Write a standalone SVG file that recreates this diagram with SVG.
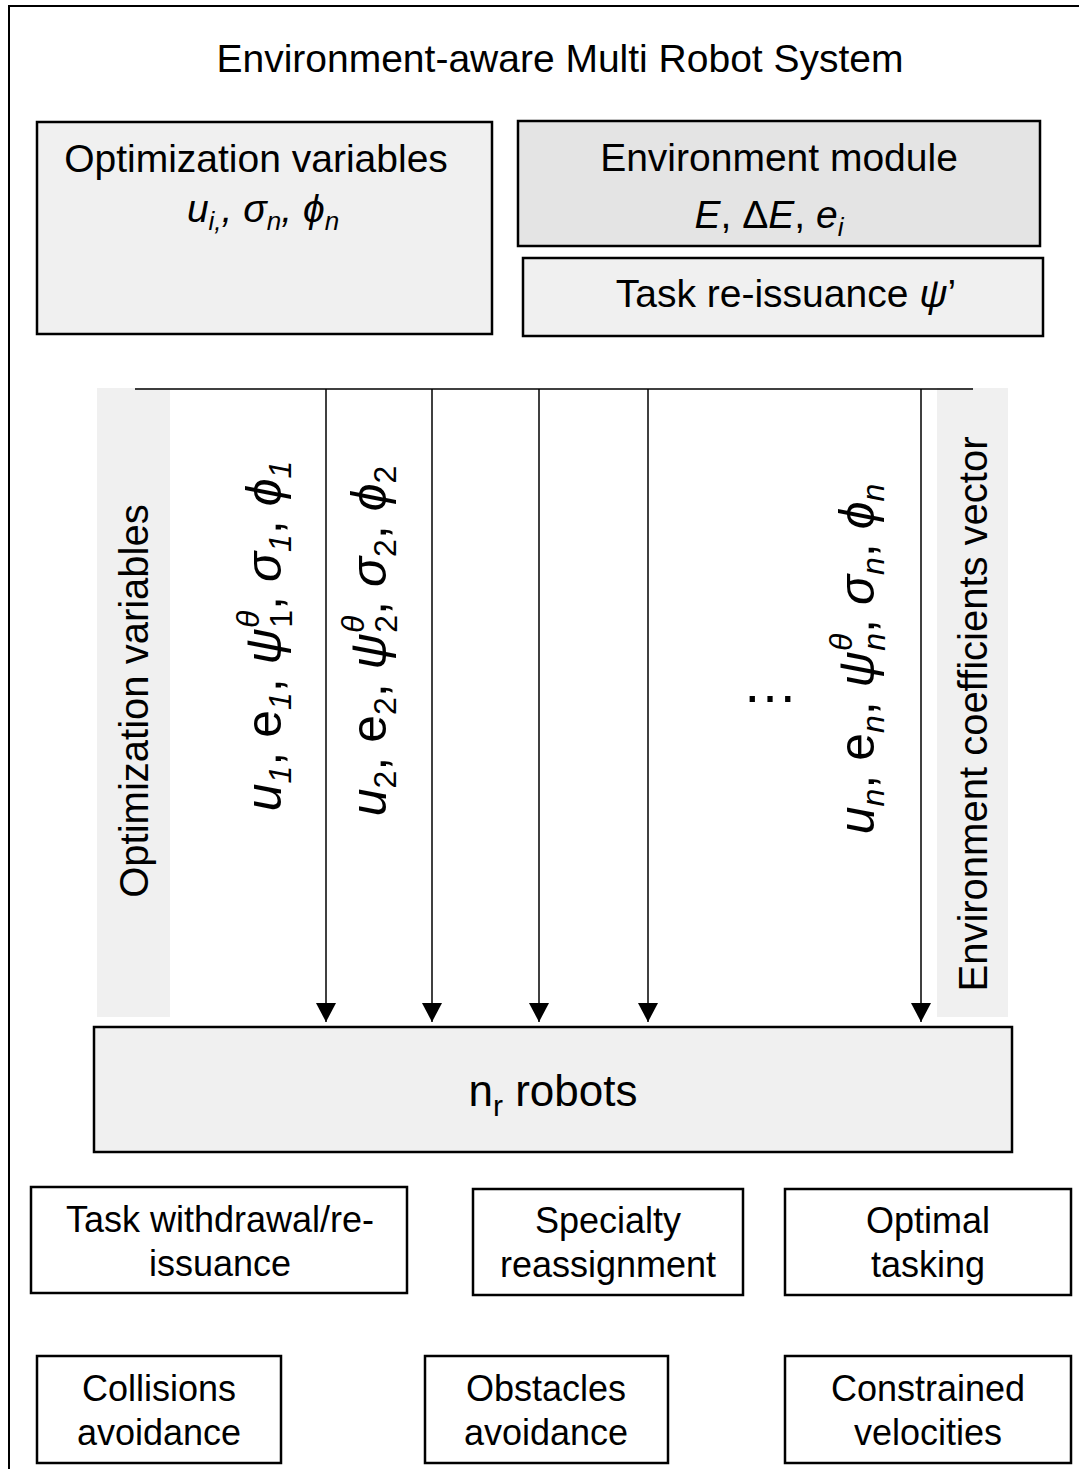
<svg xmlns="http://www.w3.org/2000/svg" width="1079" height="1469" viewBox="0 0 1079 1469">
<defs>
<style>
text{font-family:"Liberation Sans","DejaVu Sans",Arial,sans-serif;fill:#000}
.box{stroke:#000;stroke-width:2.5}
.light{fill:#f0f0f0}
.mid{fill:#e4e4e4}
.white{fill:#fff}
.band{fill:#f0f0f0;stroke:none}
.t39{font-size:39px}
.t36{font-size:36px}
.it{font-style:italic}
.conn{stroke:#000;stroke-width:1.5;fill:none}
.f{font-size:50px}
.s{font-size:32px}
</style>
<marker id="ah" markerWidth="19" markerHeight="20" refX="19" refY="10" orient="auto" markerUnits="userSpaceOnUse">
<path d="M0,0 L19,10 L0,20 Z" fill="#000"/>
</marker>
</defs>
<rect x="0" y="0" width="1079" height="1469" fill="#fff"/>
<rect x="9" y="6" width="1200" height="1600" fill="none" stroke="#000" stroke-width="2"/>

<g id="title">
<text class="t39" x="560" y="72" text-anchor="middle">Environment-aware Multi Robot System</text>
</g>

<g id="opt-vars">
<rect class="box light" x="37" y="122" width="455" height="212"/>
<text class="t39" x="256" y="172" text-anchor="middle">Optimization variables</text>
<text class="t39 it" x="263" y="222" text-anchor="middle">u<tspan font-size="26" dy="8">i,</tspan><tspan dy="-8">, σ</tspan><tspan font-size="26" dy="8">n</tspan><tspan dy="-8">, ϕ</tspan><tspan font-size="26" dy="8">n</tspan></text>
</g>

<g id="env-module">
<rect class="box mid" x="518" y="121" width="522" height="125"/>
<text class="t39" x="779" y="171" text-anchor="middle">Environment module</text>
<text class="t39" x="769" y="228" text-anchor="middle"><tspan class="it">E</tspan>, Δ<tspan class="it">E</tspan>, <tspan class="it">e</tspan><tspan class="it" font-size="26" dy="8">i</tspan></text>
</g>

<g id="task-reissuance">
<rect class="box light" x="523" y="258" width="520" height="78"/>
<text class="t39" x="786" y="307" text-anchor="middle">Task re-issuance <tspan class="it">ψ</tspan>’</text>
</g>

<g id="opt-band">
<rect class="band" x="97" y="388" width="73" height="629"/>
<text font-size="40" transform="translate(148,701) rotate(-90)" text-anchor="middle">Optimization variables</text>
</g>

<g id="env-band">
<rect class="band" x="937" y="388" width="71" height="629"/>
<text font-size="40" transform="translate(987,714) rotate(-90)" text-anchor="middle">Environment coefficients vector</text>
</g>

<g id="label-1">
<text class="f" transform="translate(281,636) rotate(-90)" text-anchor="middle"><tspan class="it">u</tspan><tspan class="s it" dy="10">1</tspan><tspan dy="-10">, e</tspan><tspan class="s it" dy="10">1</tspan><tspan dy="-10">, </tspan><tspan class="it">ψ</tspan><tspan class="s it" dy="-22">θ</tspan><tspan class="s" dx="-17" dy="33">1</tspan><tspan dy="-11">, </tspan><tspan class="it">σ</tspan><tspan class="s it" dy="10">1</tspan><tspan dy="-10">, </tspan><tspan class="it">ϕ</tspan><tspan class="s it" dy="10">1</tspan></text>
</g>

<g id="label-2">
<text class="f" transform="translate(386,641) rotate(-90)" text-anchor="middle"><tspan class="it">u</tspan><tspan class="s" dy="10">2</tspan><tspan dy="-10">, e</tspan><tspan class="s" dy="10">2</tspan><tspan dy="-10">, </tspan><tspan class="it">ψ</tspan><tspan class="s it" dy="-22">θ</tspan><tspan class="s" dx="-17" dy="33">2</tspan><tspan dy="-11">, </tspan><tspan class="it">σ</tspan><tspan class="s" dy="10">2</tspan><tspan dy="-10">, </tspan><tspan class="it">ϕ</tspan><tspan class="s" dy="10">2</tspan></text>
</g>

<g id="ellipsis">
<text font-size="56" x="770" y="702" text-anchor="middle">…</text>
</g>

<g id="label-n">
<text class="f" transform="translate(874,659) rotate(-90)" text-anchor="middle"><tspan class="it">u</tspan><tspan class="s it" dy="10">n</tspan><tspan dy="-10">, e</tspan><tspan class="s it" dy="10">n</tspan><tspan dy="-10">, </tspan><tspan class="it">ψ</tspan><tspan class="s it" dy="-22">θ</tspan><tspan class="s it" dx="-17" dy="33">n</tspan><tspan dy="-11">, </tspan><tspan class="it">σ</tspan><tspan class="s it" dy="10">n</tspan><tspan dy="-10">, </tspan><tspan class="it">ϕ</tspan><tspan class="s it" dy="10">n</tspan></text>
</g>

<g id="connectors">
<line class="conn" x1="135" y1="389" x2="973" y2="389"/>
<line class="conn" x1="326" y1="389" x2="326" y2="1022" marker-end="url(#ah)"/>
<line class="conn" x1="432" y1="389" x2="432" y2="1022" marker-end="url(#ah)"/>
<line class="conn" x1="539" y1="389" x2="539" y2="1022" marker-end="url(#ah)"/>
<line class="conn" x1="648" y1="389" x2="648" y2="1022" marker-end="url(#ah)"/>
<line class="conn" x1="921" y1="389" x2="921" y2="1022" marker-end="url(#ah)"/>
</g>

<g id="robots">
<rect class="box light" x="94" y="1027" width="918" height="125"/>
<text font-size="44" x="553" y="1106" text-anchor="middle">n<tspan font-size="30" dy="10">r</tspan><tspan dy="-10"> robots</tspan></text>
</g>

<g id="task-withdrawal">
<rect class="box white" x="31" y="1187" width="376" height="106"/>
<text class="t36" x="220" y="1232" text-anchor="middle">Task withdrawal/re-</text>
<text class="t36" x="220" y="1276" text-anchor="middle">issuance</text>
</g>

<g id="specialty">
<rect class="box white" x="473" y="1189" width="270" height="106"/>
<text class="t36" x="608" y="1233" text-anchor="middle">Specialty</text>
<text class="t36" x="608" y="1277" text-anchor="middle">reassignment</text>
</g>

<g id="optimal-tasking">
<rect class="box white" x="785" y="1189" width="286" height="106"/>
<text class="t36" x="928" y="1233" text-anchor="middle">Optimal</text>
<text class="t36" x="928" y="1277" text-anchor="middle">tasking</text>
</g>

<g id="collisions">
<rect class="box white" x="37" y="1356" width="244" height="107"/>
<text class="t36" x="159" y="1401" text-anchor="middle">Collisions</text>
<text class="t36" x="159" y="1445" text-anchor="middle">avoidance</text>
</g>

<g id="obstacles">
<rect class="box white" x="425" y="1356" width="243" height="107"/>
<text class="t36" x="546" y="1401" text-anchor="middle">Obstacles</text>
<text class="t36" x="546" y="1445" text-anchor="middle">avoidance</text>
</g>

<g id="velocities">
<rect class="box white" x="785" y="1356" width="286" height="107"/>
<text class="t36" x="928" y="1401" text-anchor="middle">Constrained</text>
<text class="t36" x="928" y="1445" text-anchor="middle">velocities</text>
</g>
</svg>
